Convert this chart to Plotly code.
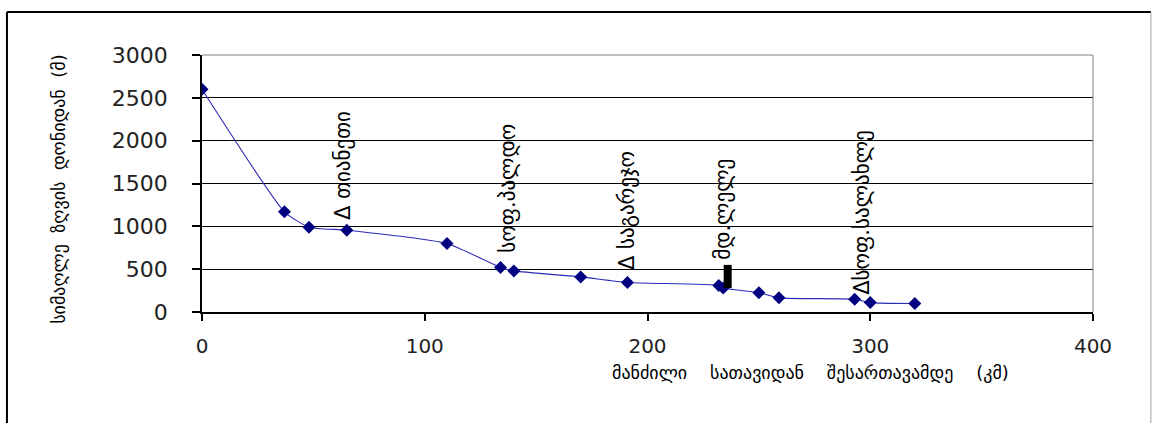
import plotly.graph_objects as go

# River longitudinal profile: distance from source (km) vs. elevation (m)
distance_km = [0, 37, 48, 65, 110, 134, 140, 170, 191, 232, 234, 250, 259, 293, 300, 320]
elevation_m = [2600, 1170, 990, 955, 800, 520, 480, 410, 345, 310, 280, 225, 165, 150, 110, 100]

# Place-name labels along the profile (km, elevation of the label base)
label_text = ["Δ თიანეთი", "სოფ.პალდო", "Δ საგარეჯო", "მდ.ლელე", "Δსოფ.სალახლე"]
label_km = [63, 137, 191, 234, 296]
label_base_m = [1050, 665, 467, 584, 175]

# Tributary mouth marker (km, lower and upper elevation)
mouth_km = 236
mouth_range_m = [280, 550]

x_ticks = [0, 100, 200, 300, 400]
y_ticks = [0, 500, 1000, 1500, 2000, 2500, 3000]

x_title = "მანძილი    სათავიდან    შესართავამდე    (კმ)"
y_title = "სიმაღლე  ზღვის  დონიდან  (მ)"

fig = go.Figure()
fig.add_trace(go.Scatter(
    x=distance_km, y=elevation_m, mode="lines+markers",
    line=dict(color="#2b2bb8", width=1.1, shape="spline", smoothing=0.5),
    marker=dict(symbol="diamond", size=10, color="#000080"),
    showlegend=False, hoverinfo="x+y",
))

fig.add_shape(type="line", xref="x", yref="y",
              x0=mouth_km, x1=mouth_km, y0=mouth_range_m[0], y1=mouth_range_m[1],
              line=dict(color="black", width=8))

for txt, xk, yb in zip(label_text, label_km, label_base_m):
    fig.add_annotation(x=xk, y=yb, xref="x", yref="y", text=txt, textangle=-90,
                       showarrow=False, xanchor="center", yanchor="bottom",
                       font=dict(family="DejaVu Sans", size=21, color="black"))

fig.add_annotation(x=0.6835, y=-0.235, xref="paper", yref="paper", text=x_title,
                   showarrow=False, xanchor="center", yanchor="middle",
                   font=dict(family="DejaVu Sans", size=18, color="black"))
fig.add_annotation(x=-0.162, y=0.478, xref="paper", yref="paper", text=y_title,
                   textangle=-90, showarrow=False, xanchor="center", yanchor="middle",
                   font=dict(family="DejaVu Sans", size=18, color="black"))

# Plot-area border (grey top and right) and outer chart frame
fig.add_shape(type="line", xref="paper", yref="paper", x0=0, x1=1, y0=1, y1=1,
              line=dict(color="#808080", width=1))
fig.add_shape(type="line", xref="paper", yref="paper", x0=1, x1=1, y0=0, y1=1,
              line=dict(color="#808080", width=1))
fig.add_shape(type="line", xref="paper", yref="paper", x0=-0.2189, x1=1.065, y0=1.167, y1=1.167,
              line=dict(color="black", width=2))
fig.add_shape(type="line", xref="paper", yref="paper", x0=-0.2189, x1=-0.2189, y0=-0.5, y1=1.167,
              line=dict(color="black", width=2))
fig.add_shape(type="line", xref="paper", yref="paper", x0=1.065, x1=1.065, y0=-0.5, y1=1.167,
              line=dict(color="#a0a0a0", width=1))

fig.update_xaxes(range=[0, 400], tickvals=x_ticks, showgrid=False, zeroline=False,
                 showline=True, linecolor="black", linewidth=1.5,
                 ticks="outside", ticklen=7, tickcolor="black", tickwidth=1.5,
                 ticklabelstandoff=8,
                 tickfont=dict(family="DejaVu Sans", size=20, color="#222"))
fig.update_yaxes(range=[0, 3000], tickvals=y_ticks, showgrid=True, gridcolor="black",
                 gridwidth=1.3, zeroline=False, showline=True, linecolor="black",
                 linewidth=1.5, ticks="outside", ticklen=8, tickcolor="black",
                 tickwidth=1.5, ticklabelstandoff=20,
                 tickfont=dict(family="DejaVu Sans", size=22, color="#222"))

fig.update_layout(width=1154, height=423, margin=dict(l=202, r=61, t=55, b=111),
                  paper_bgcolor="white", plot_bgcolor="white")

fig.write_html("out.html")
